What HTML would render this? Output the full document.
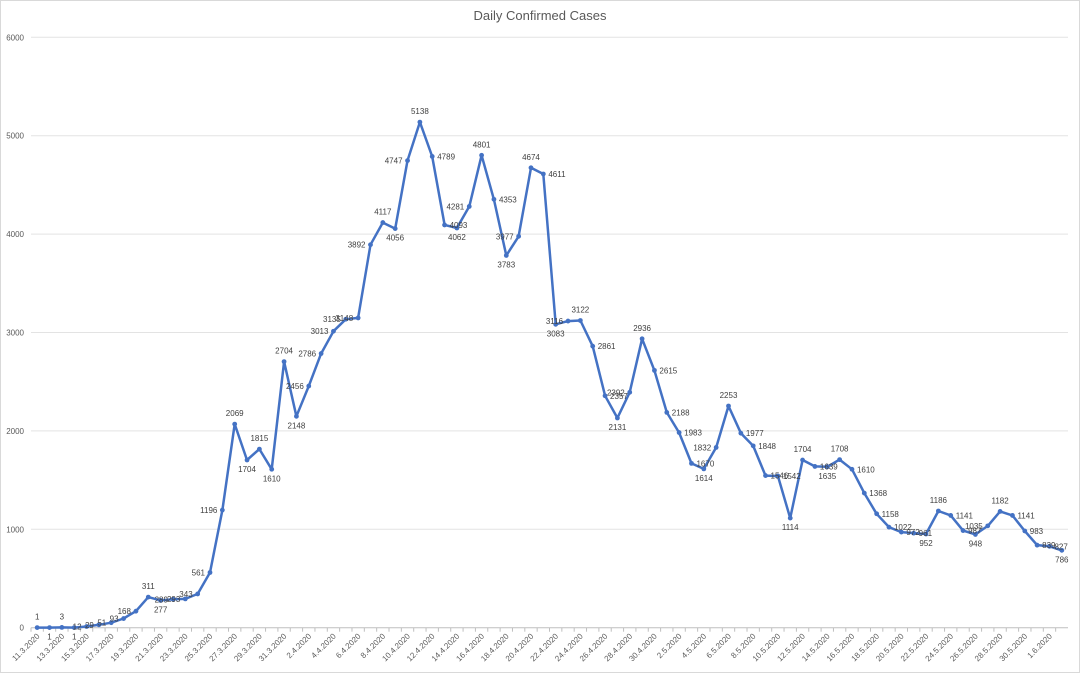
<!DOCTYPE html>
<html><head><meta charset="utf-8"><style>
html,body{margin:0;padding:0;background:#fff;}
svg{display:block;font-family:"Liberation Sans",sans-serif;}
</style></head><body>
<svg id="chart" width="1080" height="673" viewBox="0 0 1080 673" xmlns="http://www.w3.org/2000/svg">
<rect x="0.5" y="0.5" width="1079" height="672" fill="#fff" stroke="#d9d9d9"/>
<text x="540" y="20" text-anchor="middle" font-size="13" fill="#595959">Daily Confirmed Cases</text>
<g id="grid"></g>
<g id="yaxis"></g>
<g id="xaxis"></g>
<g id="series"></g>
<g id="labels"></g>
</svg>
<script>
const categories = ["11.3.2020","12.3.2020","13.3.2020","14.3.2020","15.3.2020","16.3.2020","17.3.2020","18.3.2020","19.3.2020","20.3.2020","21.3.2020","22.3.2020","23.3.2020","24.3.2020","25.3.2020","26.3.2020","27.3.2020","28.3.2020","29.3.2020","30.3.2020","31.3.2020","1.4.2020","2.4.2020","3.4.2020","4.4.2020","5.4.2020","6.4.2020","7.4.2020","8.4.2020","9.4.2020","10.4.2020","11.4.2020","12.4.2020","13.4.2020","14.4.2020","15.4.2020","16.4.2020","17.4.2020","18.4.2020","19.4.2020","20.4.2020","21.4.2020","22.4.2020","23.4.2020","24.4.2020","25.4.2020","26.4.2020","27.4.2020","28.4.2020","29.4.2020","30.4.2020","1.5.2020","2.5.2020","3.5.2020","4.5.2020","5.5.2020","6.5.2020","7.5.2020","8.5.2020","9.5.2020","10.5.2020","11.5.2020","12.5.2020","13.5.2020","14.5.2020","15.5.2020","16.5.2020","17.5.2020","18.5.2020","19.5.2020","20.5.2020","21.5.2020","22.5.2020","23.5.2020","24.5.2020","25.5.2020","26.5.2020","27.5.2020","28.5.2020","29.5.2020","30.5.2020","31.5.2020","1.6.2020","2.6.2020"];
const cases = [1,1,3,1,12,29,51,93,168,311,277,289,293,343,561,1196,2069,1704,1815,1610,2704,2148,2456,2786,3013,3135,3148,3892,4117,4056,4747,5138,4789,4093,4062,4281,4801,4353,3783,3977,4674,4611,3083,3116,3122,2861,2357,2131,2392,2936,2615,2188,1983,1670,1614,1832,2253,1977,1848,1546,1542,1114,1704,1639,1635,1708,1610,1368,1158,1022,972,961,952,1186,1141,987,948,1035,1182,1141,983,839,827,786];
const yTicks = [0,1000,2000,3000,4000,5000,6000];

const NS="http://www.w3.org/2000/svg";
const plotL=31, plotR=1068, y0=627.7, yMax=6000, pxPer=98.4/1000;
const step=(plotR-plotL)/categories.length;
function xPos(i){return plotL+(i+0.5)*step;}
function yPos(v){return y0-v*pxPer;}
function mk(tag,attrs,parent){const e=document.createElementNS(NS,tag);for(const k in attrs)e.setAttribute(k,attrs[k]);parent.appendChild(e);return e;}

const grid=document.getElementById('grid'), yaxis=document.getElementById('yaxis'), xaxis=document.getElementById('xaxis');
yTicks.forEach(t=>{
  const l=mk('line',{x1:plotL,x2:plotR,y1:yPos(t),y2:yPos(t),stroke:t===0?'#bfbfbf':'#e3e3e3','stroke-width':1},grid);
  
  
  const tx=mk('text',{x:24,y:yPos(t)+3,'text-anchor':'end','font-size':8,fill:'#595959'},yaxis);
  tx.textContent=t;
  
  
});
categories.forEach((c,i)=>{
  const tk=mk('line',{x1:plotL+i*step,x2:plotL+i*step,y1:y0,y2:y0+4,stroke:'#bfbfbf'},xaxis);
  
  
  if(i%2===0){
    const x=xPos(i)+3, y=y0+9;
    const tx=mk('text',{x:x,y:y,'text-anchor':'end','font-size':8,fill:'#595959',transform:`rotate(-45 ${x} ${y})`},xaxis);
    tx.textContent=c;
    
    
  }
});
const series=document.getElementById('series'), labels=document.getElementById('labels');
const pts=cases.map((v,i)=>xPos(i).toFixed(1)+','+yPos(v).toFixed(1)).join(' ');
const pl=mk('polyline',{points:pts,fill:'none',stroke:'#4472C4','stroke-width':2.5,'stroke-linejoin':'round'},series);


cases.forEach((v,i)=>{
  const c=mk('circle',{cx:xPos(i),cy:yPos(v),r:2.4,fill:'#4472C4'},series);
  
  
  const prev=i>0?cases[i-1]:v, next=i<cases.length-1?cases[i+1]:v;
  let x=xPos(i), y=yPos(v), anchor='middle';
  if(v>=prev&&v>=next){y-=8;}
  else if(v<=prev&&v<=next){y+=12;}
  else if(next>v){x-=5;y+=3;anchor='end';}
  else {x+=5;y+=3;anchor='start';}
  const t=mk('text',{x:x,y:y,'text-anchor':anchor,'font-size':8,fill:'#404040'},labels);
  t.textContent=v;
  
  
});
</script>
</body></html>
